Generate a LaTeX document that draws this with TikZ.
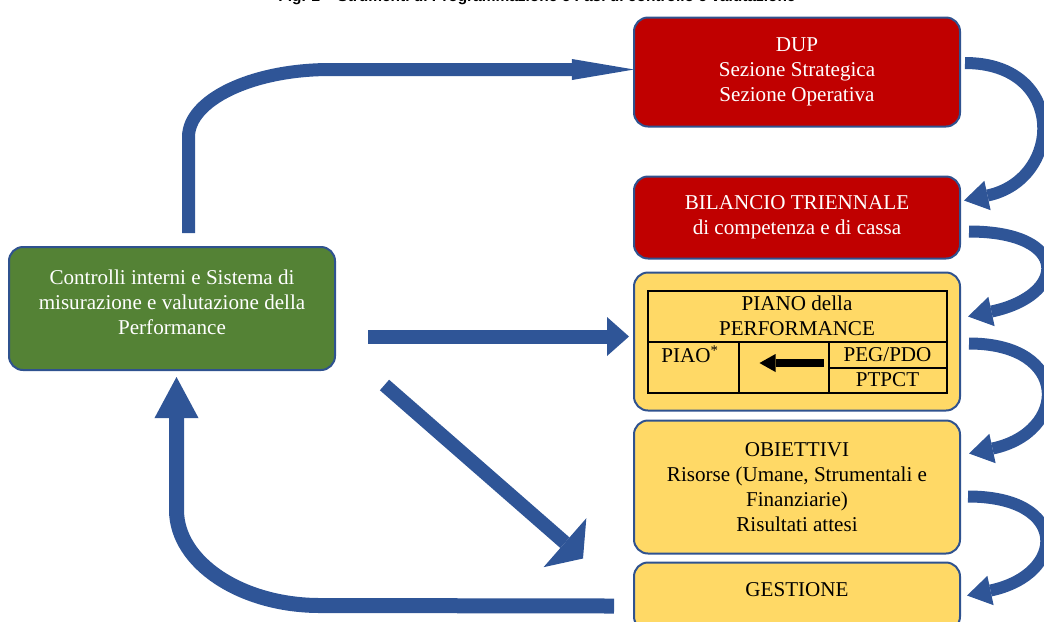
\documentclass[tikz,border=0pt]{standalone}
\usepackage{fontspec}
\setmainfont{Liberation Serif}
\newfontfamily\titlefont{Liberation Sans}
\usepackage{tikz}
\usetikzlibrary{positioning,calc,arrows.meta}
\newdimen\pxu
\pxu=0.025cm
\definecolor{DUP_RED}{HTML}{C00000}
\definecolor{PDO_YELLOW}{HTML}{FFD966}
\definecolor{CTRL_GREEN}{HTML}{548235}
\definecolor{EDGE_BLUE}{HTML}{2F528F}
\definecolor{FLOW_BLUE}{HTML}{2F5597}
\tikzstyle{txt} = [font=\fontsize{15}{17.8}\selectfont]
\tikzstyle{phase} = [rectangle, txt, draw=EDGE_BLUE, line width=2\pxu, rounded corners=14\pxu, minimum width=326\pxu, align=center, inner sep=0pt, outer sep=0pt]
\tikzstyle{red_phase} = [phase, fill=DUP_RED, text=white]
\tikzstyle{yellow_phase} = [phase, fill=PDO_YELLOW]
\tikzstyle{cell} = [rectangle, txt, draw=black, line width=2\pxu, align=center, inner sep=0pt, outer sep=0pt]
\tikzstyle{flow} = [draw=FLOW_BLUE, line width=14\pxu]
\tikzstyle{turn} = [draw=FLOW_BLUE, line width=12\pxu, -{Triangle[length=0.6cm,width=0.75cm,line width=0pt]}]

\begin{document}
\begin{tikzpicture}[x=0.025cm, y=-0.025cm]
      \useasboundingbox (0,0) rectangle (1044,621);

      \node[font=\titlefont\bfseries\fontsize{11}{13}\selectfont, anchor=base, inner sep=0pt] (title) at (537,1.5) {Fig. 2 – Strumenti di Programmazione e Fasi di controllo e valutazione};

      % right column
      \node[red_phase, minimum height=109\pxu] (dup) at (797,72) {DUP\\Sezione Strategica\\Sezione Operativa};
      \node[red_phase, minimum height=82\pxu, below=50\pxu of dup] (bil) {BILANCIO TRIENNALE\\di competenza e di cassa};
      \node[yellow_phase, minimum height=138\pxu, below=14\pxu of bil] (piano) {};
      \node[yellow_phase, minimum height=133\pxu, below=10\pxu of piano] (obj) {OBIETTIVI\\Risorse (Umane, Strumentali e\\Finanziarie)\\Risultati attesi};
      \node[yellow_phase, minimum height=68\pxu, text height=10pt, text depth=10pt, below=9\pxu of obj] (gest) {GESTIONE};

      % piano table
      \node[cell, minimum width=299\pxu, minimum height=51\pxu, below=18\pxu of piano.north] (pperf) {PIANO della\\PERFORMANCE};
      \node[cell, minimum width=91\pxu, minimum height=51\pxu, below right=0pt and 0pt of pperf.south west] (piao) {};
      \node[cell, minimum width=90\pxu, minimum height=51\pxu, right=0pt of piao] (mid) {};
      \node[cell, minimum width=118\pxu, minimum height=26\pxu, anchor=north east] (peg) at (pperf.south east) {PEG/PDO};
      \node[cell, minimum width=118\pxu, minimum height=25\pxu, below=0pt of peg] (ptpct) {PTPCT};
      \node[txt, anchor=north, inner sep=0pt] (piaotxt) at ($(piao.north)+(-3,4)$) {PIAO\textsuperscript{*}};
      \draw[line width=8\pxu, -{Triangle[length=0.4cm,width=0.45cm,line width=0pt]}] ($(mid.center)+(40,-4)$) -- ($(mid.center)+(-24,-4)$);

      % left box
      \node[phase, fill=CTRL_GREEN, text=white, minimum height=123\pxu, text depth=9pt] (ctrl) at (172,308.5) {Controlli interni e Sistema di\\misurazione e valutazione della\\Performance};

      % big arrows
      \draw[flow, line width=13\pxu, -{Triangle[length=1.55cm,width=0.525cm,line width=0pt]}] ($(ctrl.north)+(16.5,-14)$) -- (188.5,137) .. controls (188.5,100) and (252,69.5) .. (330,69.5) -- ($(dup.west)+(0,-2.5)$);
      \draw[flow, -{Triangle[length=0.55cm,width=0.975cm,line width=0pt]}] ($(ctrl.east |- piano.west)+(33,-5)$) -- ($(piano.west)+(-5,-5)$);
      \draw[flow, -{Triangle[length=0.6cm,width=1.625cm,line width=0pt]}] ($(ctrl.south east)+(49.5,15)$) -- ($(gest.north west)+(-51,-4)$);
      \draw[flow, line width=15\pxu, -{Triangle[length=1.025cm,width=1.1cm,line width=0pt]}] ($(gest.west)+(-20,9.5)$) -- (320,605.5) .. controls (241,605.5) and (176.5,562.5) .. (176.5,510) -- ($(ctrl.south)+(4.5,7)$);

      % steps on the right
      \draw[turn] ($(dup.east)+(5,-9)$) to[out=0,in=12,distance=102\pxu] ($(bil.east)+(4,-17)$);
      \draw[turn] ($(bil.east)+(9,14)$) to[out=0,in=12,distance=102\pxu] ($(piano.east)+(8,-25)$);
      \draw[turn] ($(piano.east)+(9,2)$) to[out=0,in=12,distance=102\pxu] ($(obj.east)+(9,-33.5)$);
      \draw[turn] ($(obj.east)+(8,9.5)$) to[out=0,in=12,distance=102\pxu] ($(gest.east)+(7,-1)$);
\end{tikzpicture}
\end{document}
